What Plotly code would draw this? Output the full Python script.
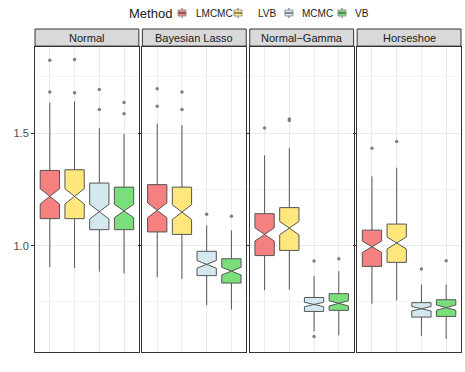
import plotly.graph_objects as go
from plotly.subplots import make_subplots

panels = ['Normal', 'Bayesian Lasso', 'Normal\u2212Gamma', 'Horseshoe']
methods = ['LMCMC', 'LVB', 'MCMC', 'VB']
colors = {'LMCMC': 'rgb(245,128,128)', 'LVB': 'rgb(255,230,125)',
          'MCMC': 'rgb(212,232,240)', 'VB': 'rgb(122,222,122)'}

# box statistics per panel, in method order
lower = [[0.905, 0.901, 0.885, 0.876],
         [0.861, 0.853, 0.735, 0.716],
         [0.802, 0.805, 0.619, 0.602],
         [0.742, 0.757, 0.600, 0.587]]
q1 = [[1.120, 1.120, 1.071, 1.071],
      [1.061, 1.050, 0.867, 0.834],
      [0.956, 0.979, 0.708, 0.713],
      [0.908, 0.926, 0.683, 0.686]]
median = [[1.219, 1.219, 1.151, 1.154],
          [1.157, 1.149, 0.917, 0.887],
          [1.050, 1.078, 0.739, 0.744],
          [0.995, 1.012, 0.720, 0.725]]
q3 = [[1.334, 1.337, 1.278, 1.260],
      [1.271, 1.260, 0.975, 0.942],
      [1.142, 1.169, 0.770, 0.787],
      [1.069, 1.096, 0.747, 0.760]]
upper = [[1.635, 1.641, 1.522, 1.497],
         [1.542, 1.534, 1.090, 1.068],
         [1.401, 1.435, 0.865, 0.887],
         [1.308, 1.346, 0.827, 0.827]]
outliers = [[[1.823, 1.682], [1.827, 1.679], [1.693, 1.605], [1.636, 1.586]],
            [[1.697, 1.619], [1.682, 1.605], [1.139], [1.131]],
            [[1.522], [1.562, 1.556], [0.932, 0.597], [0.942]],
            [[1.433], [1.463], [0.896], [0.933]]]
n_obs = 100

W, H = 465, 372
ML, MR, MT, MB = 35, 4, 47, 20

def px(x):
    return (x - ML) / (W - ML - MR)

def py(y):
    return (H - MB - y) / (H - MT - MB)

fig = make_subplots(rows=1, cols=4, shared_yaxes=True, horizontal_spacing=0.0082)

for i, panel in enumerate(panels):
    for j, m in enumerate(methods):
        iqr = q3[i][j] - q1[i][j]
        fig.add_trace(go.Box(
            x=[m], q1=[q1[i][j]], median=[median[i][j]], q3=[q3[i][j]],
            lowerfence=[lower[i][j]], upperfence=[upper[i][j]],
            notchspan=[1.57 * iqr / n_obs ** 0.5], notched=True, notchwidth=0.5,
            width=0.78, whiskerwidth=0, name=m, showlegend=False,
            fillcolor=colors[m], line=dict(color='#555555', width=1), boxpoints=False),
            row=1, col=i + 1)
        fig.add_trace(go.Scatter(
            x=[m] * len(outliers[i][j]), y=outliers[i][j], mode='markers',
            marker=dict(color='#808080', size=3.5), showlegend=False, hoverinfo='y'),
            row=1, col=i + 1)

fig.update_xaxes(categoryorder='array', categoryarray=methods, range=[-0.6, 3.6],
                 showticklabels=False, ticks='', showgrid=True, gridcolor='#EBEBEB',
                 gridwidth=1, showline=True, mirror=True, linecolor='#333333',
                 linewidth=1, zeroline=False)
fig.update_yaxes(range=[0.528, 1.882], tickvals=[1.0, 1.5], ticktext=['1.0', '1.5'],
                 showgrid=True, gridcolor='#EBEBEB', gridwidth=1,
                 minor=dict(tickvals=[0.75, 1.25, 1.75], showgrid=True,
                            gridcolor='#F4F4F4', gridwidth=1, ticks=''),
                 showline=True, mirror=True, linecolor='#333333', linewidth=1,
                 zeroline=False, ticks='outside', ticklen=3, tickcolor='#333333',
                 tickfont=dict(size=11, color='#4D4D4D'))

# facet strips
for i, panel in enumerate(panels):
    dom = fig.layout['xaxis' if i == 0 else f'xaxis{i + 1}'].domain
    fig.add_shape(type='rect', xref='paper', yref='paper', x0=dom[0], x1=dom[1],
                  y0=1.003, y1=1.059, fillcolor='#D9D9D9',
                  line=dict(color='#333333', width=1), layer='below')
    fig.add_annotation(text=panel, xref='paper', yref='paper', x=(dom[0] + dom[1]) / 2,
                       y=1.031, xanchor='center', yanchor='middle', showarrow=False,
                       font=dict(size=11, color='#1A1A1A'))

# legend drawn by hand (ggplot style, compact)
fig.add_annotation(text='Method', xref='paper', yref='paper', x=px(127), y=py(13),
                   xanchor='left', yanchor='middle', showarrow=False,
                   font=dict(size=13, color='#1A1A1A'))
icon_x = [182, 238, 289, 342]
label_x = [194, 256, 300, 353]
for m, ix, lx in zip(methods, icon_x, label_x):
    fig.add_shape(type='line', xref='paper', yref='paper', x0=px(ix), x1=px(ix),
                  y0=py(8), y1=py(18), line=dict(color='#555555', width=1))
    fig.add_shape(type='rect', xref='paper', yref='paper', x0=px(ix - 4), x1=px(ix + 4),
                  y0=py(10), y1=py(16), fillcolor=colors[m],
                  line=dict(color='#999999', width=1))
    fig.add_shape(type='line', xref='paper', yref='paper', x0=px(ix - 4), x1=px(ix + 4),
                  y0=py(13), y1=py(13), line=dict(color='#333333', width=1))
    fig.add_annotation(text=m, xref='paper', yref='paper', x=px(lx), y=py(13),
                       xanchor='left', yanchor='middle', showarrow=False,
                       font=dict(size=10, color='#1A1A1A'))

fig.update_layout(
    width=W, height=H, template='plotly_white', boxmode='overlay', showlegend=False,
    margin=dict(l=ML, r=MR, t=MT, b=MB),
    font=dict(family='Liberation Sans, Arial, sans-serif'),
    plot_bgcolor='white', paper_bgcolor='white',
)

fig.write_html("out.html", config={'displayModeBar': False},
               post_script="document.body.style.margin='0';")
